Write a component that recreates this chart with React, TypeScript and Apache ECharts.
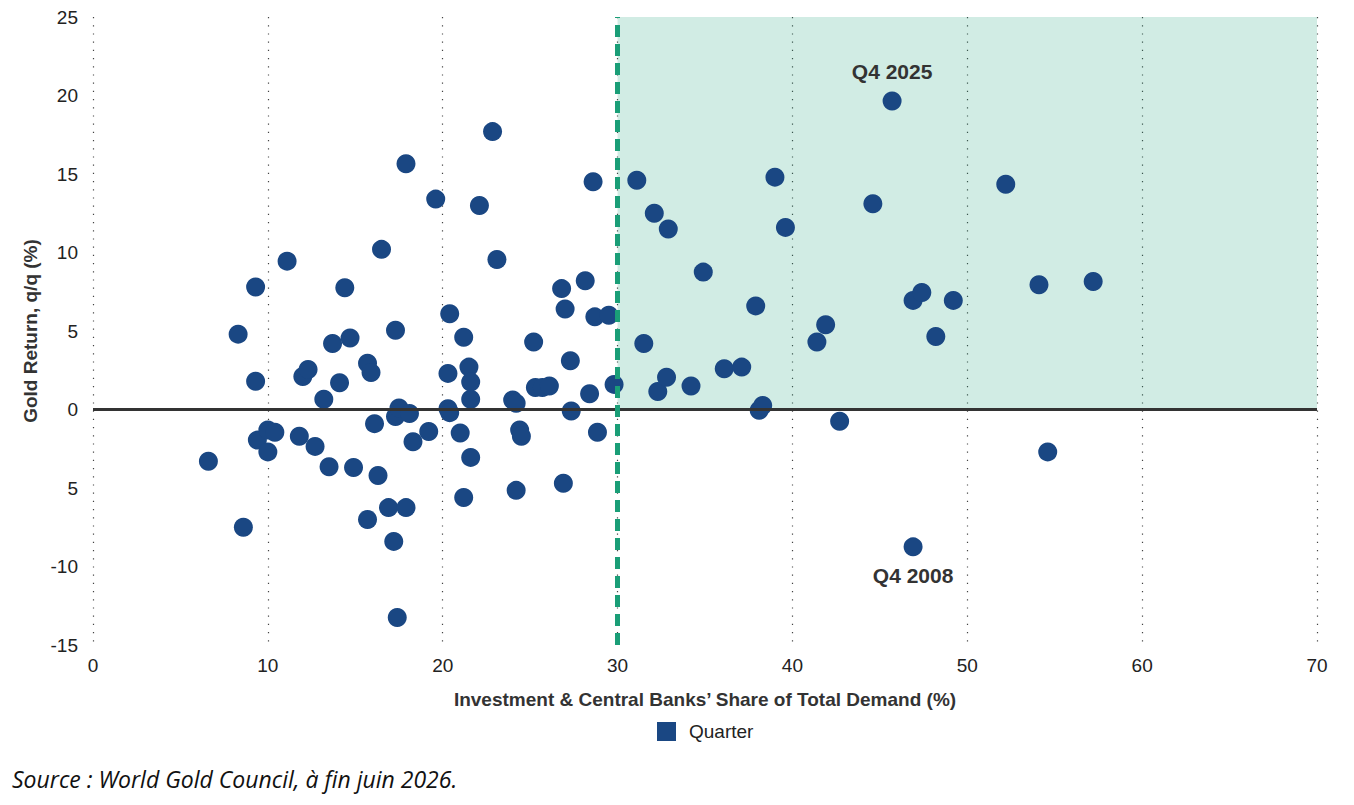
import React, { useEffect, useRef } from "react";
import * as echarts from "echarts";

const shareX: number[] = [
  6.6, 8.3, 8.6, 9.3, 9.3, 9.4, 10.0, 10.0, 10.4, 11.1,
  11.8, 12.0, 12.3, 12.7, 13.2, 13.5, 13.7, 14.1, 14.4, 14.7,
  14.9, 15.7, 15.7, 15.9, 16.1, 16.3, 16.5, 16.9, 17.2, 17.3,
  17.4, 17.3, 17.5, 17.9, 17.9, 18.1, 18.3, 19.2, 19.6, 20.3,
  20.4, 20.3, 20.4, 21.0, 21.2, 21.2, 21.5, 21.6, 21.6, 21.6,
  22.1, 22.85, 23.1, 24.0, 24.2, 24.2, 24.4, 24.5, 25.2, 25.3,
  25.7, 26.1, 26.8, 26.9, 27.0, 27.3, 27.35, 28.15, 28.4, 28.6,
  28.7, 28.85, 29.5, 29.8, 31.1, 31.5, 32.1, 32.3, 32.8, 32.9,
  34.2, 34.9, 36.1, 37.1, 37.9, 38.1, 38.3, 39.0, 39.6, 44.6,
  45.7, 41.4, 41.9, 42.7, 46.9, 47.4, 48.2, 49.2, 46.9, 52.2,
  54.1, 57.2, 54.6,
];

const returnY: number[] = [
  -3.3, 4.8, -7.5, 7.8, 1.8, -1.95, -1.3, -2.7, -1.45, 9.45,
  -1.7, 2.1, 2.55, -2.35, 0.65, -3.65, 4.2, 1.7, 7.75, 4.55,
  -3.7, 2.95, -7.0, 2.35, -0.9, -4.2, 10.2, -6.25, -8.4, 5.05,
  -13.25, -0.45, 0.1, -6.25, 15.65, -0.25, -2.05, -1.4, 13.4, 2.3,
  6.1, 0.05, -0.2, -1.5, 4.6, -5.6, 2.7, 1.75, 0.65, -3.05,
  13.0, 17.7, 9.55, 0.6, 0.4, -5.15, -1.3, -1.7, 4.3, 1.4,
  1.4, 1.5, 7.7, -4.7, 6.4, 3.1, -0.1, 8.2, 1.0, 14.5,
  5.9, -1.45, 6.0, 1.6, 14.6, 4.2, 12.5, 1.15, 2.05, 11.5,
  1.5, 8.75, 2.6, 2.7, 6.6, -0.05, 0.25, 14.8, 11.6, 13.1,
  19.65, 4.3, 5.4, -0.75, 6.95, 7.45, 4.65, 6.95, -8.75, 14.35,
  7.95, 8.15, -2.7,
];

// index of annotated quarters in the arrays above
const annotations: { index: number; text: string; position: "top" | "bottom" }[] = [
  { index: 90, text: "Q4 2025", position: "top" },
  { index: 98, text: "Q4 2008", position: "bottom" },
];

const seriesName = "Quarter";
const xTitle = "Investment & Central Banks\u2019 Share of Total Demand (%)";
const yTitle = "Gold Return, q/q (%)";
const sourceText = "Source : World Gold Council, \u00e0 fin juin 2026.";
const thresholdX = 30;

const NAVY = "#1a4783";
const TEAL = "#1a9e77";
const DARK = "#333333";
const FONT = "'Liberation Sans', Arial, Helvetica, sans-serif";

export default function App() {
  const ref = useRef<HTMLDivElement>(null);

  useEffect(() => {
    if (!ref.current) return;
    const chart = echarts.init(ref.current, undefined, { renderer: "svg" });

    const data = shareX.map((x, i) => {
      const ann = annotations.find((a) => a.index === i);
      if (!ann) return [x, returnY[i]];
      return {
        value: [x, returnY[i]],
        label: {
          show: true,
          formatter: ann.text,
          position: ann.position,
          distance: 9,
          color: DARK,
          fontSize: 21,
          fontWeight: "bold",
          fontFamily: FONT,
        },
      };
    });

    chart.setOption({
      animation: false,
      textStyle: { fontFamily: FONT },
      grid: { left: 93, right: 37, top: 17, bottom: 160, containLabel: false },
      legend: {
        data: [seriesName],
        top: 722,
        left: 657,
        padding: 0,
        icon: "rect",
        itemWidth: 19,
        itemHeight: 19,
        textStyle: {
          color: "#222",
          fontSize: 19,
          fontFamily: FONT,
          padding: [0, 0, 0, 8],
        },
      },
      xAxis: {
        type: "value",
        min: 0,
        max: 70,
        interval: 10,
        name: xTitle,
        nameLocation: "middle",
        nameGap: 45,
        nameTextStyle: { color: DARK, fontSize: 19, fontWeight: "bold", fontFamily: FONT },
        axisLine: { show: false },
        axisTick: { show: false },
        axisLabel: { color: "#222", fontSize: 19, margin: 11, fontFamily: FONT },
        splitLine: {
          show: true,
          lineStyle: { color: "#444", width: 1.2, type: [1.2, 7] },
        },
      },
      yAxis: {
        type: "value",
        min: -15,
        max: 25,
        interval: 5,
        name: yTitle,
        nameLocation: "middle",
        nameGap: 51,
        nameTextStyle: { color: DARK, fontSize: 19, fontWeight: "bold", fontFamily: FONT },
        axisLine: { show: false },
        axisTick: { show: false },
        axisLabel: {
          color: "#222",
          fontSize: 19,
          margin: 15,
          fontFamily: FONT,
          formatter: (v: number) => (v === -5 ? "5" : String(v)),
        },
        splitLine: { show: false },
      },
      graphic: [
        {
          type: "text",
          left: 12,
          top: 767,
          style: {
            text: sourceText,
            fill: "#111",
            font: "italic 23px 'Open Sans', 'Noto Sans', sans-serif",
          },
        },
      ],
      series: [
        {
          name: "bg",
          type: "scatter",
          data: [],
          z: 1,
          silent: true,
          markArea: {
            silent: true,
            itemStyle: { color: "rgba(26,158,119,0.2)" },
            data: [[{ xAxis: thresholdX, yAxis: 0 }, { xAxis: 70, yAxis: 25 }]],
          },
          markLine: {
            silent: true,
            symbol: "none",
            label: { show: false },
            data: [
              { yAxis: 0, lineStyle: { color: DARK, width: 3, type: "solid" } },
            ],
          },
        },
        {
          name: "bg2",
          type: "scatter",
          data: [],
          z: 4,
          silent: true,
          markLine: {
            silent: true,
            symbol: "none",
            label: { show: false },
            data: [
              { xAxis: thresholdX, lineStyle: { color: TEAL, width: 5, type: [12, 7] } },
            ],
          },
        },
        {
          name: seriesName,
          type: "scatter",
          z: 3,
          symbol: "circle",
          symbolSize: 19,
          itemStyle: { color: NAVY, opacity: 1 },
          data,
        },
      ],
    });

    return () => chart.dispose();
  }, []);

  return (
    <div
      ref={ref}
      style={{ position: "fixed", left: 0, top: 0, width: 1354, height: 805, background: "#fff" }}
    />
  );
}
